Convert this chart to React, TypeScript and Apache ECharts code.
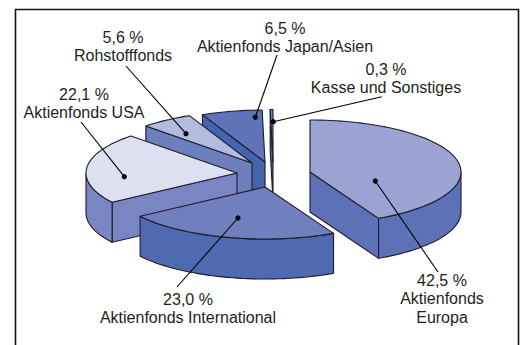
import React, { useEffect, useRef } from "react";
import * as echarts from "echarts";

// Fund allocation, in percent, clockwise from twelve o'clock.
const funds = [
  "Aktienfonds Europa",
  "Aktienfonds International",
  "Aktienfonds USA",
  "Rohstofffonds",
  "Aktienfonds Japan/Asien",
  "Kasse und Sonstiges",
];
const shares = [42.5, 23.0, 22.1, 5.6, 6.5, 0.3];

// Label lines: the last fund name wraps onto two rows.
const labelLines = [
  ["Aktienfonds", "Europa"],
  ["Aktienfonds International"],
  ["Aktienfonds USA"],
  ["Rohstofffonds"],
  ["Aktienfonds Japan/Asien"],
  ["Kasse und Sonstiges"],
];

// Where each exploded wedge's tip sits.
const wedgeTips = [
  [310, 172],
  [265, 187],
  [237, 173],
  [252, 163],
  [265, 162],
  [273, 161.5],
];
const topColors = ["#9aa3d1", "#7080bf", "#dde0f1", "#b3bbde", "#5e73b8", "#6f80be"];
const rimColors = ["#5d72b6", "#4f6ab0", "#7a86c3", "#6e7fbe", "#4365b0", "#4365b0"];

// Leader line anchor on the wedge, leader line end, centre of the label block.
const leaderDots = [
  [375.3, 181],
  [238, 218],
  [124.3, 176.7],
  [186, 133.7],
  [255.3, 117.3],
  [273.3, 121.7],
];
const leaderEnds = [
  [438, 272],
  [177, 287],
  [81, 122],
  [126, 66],
  [277, 55],
  [381.7, 96.7],
];
const labelCentres = [
  [442, 280],
  [188, 299],
  [84, 94],
  [123, 37],
  [285, 28],
  [386, 69],
];

const RX = 151;
const RY = 52;
const DEPTH = 40;
const ROW = 18.7;
const INK = "#231f20";
const EDGE = "#1c1c2c";

const rimPoint = (tip: number[], deg: number, drop = 0) => {
  const a = (deg * Math.PI) / 180;
  return [tip[0] + RX * Math.sin(a), tip[1] - RY * Math.cos(a) + drop];
};

const arcPoints = (tip: number[], from: number, to: number, drop = 0) => {
  const steps = Math.max(2, Math.ceil(Math.abs(to - from) / 2));
  const pts: number[][] = [];
  for (let i = 0; i <= steps; i++) {
    pts.push(rimPoint(tip, from + ((to - from) * i) / steps, drop));
  }
  return pts;
};

const renderWedge = (_: unknown, api: any) => {
  const index = api.value(0);
  const startDeg = (api.value(1) / 100) * 360;
  const endDeg = startDeg + (api.value(2) / 100) * 360;
  const tip = wedgeTips[index];
  const lineStyle = { stroke: EDGE, lineWidth: 1.1, lineJoin: "round" };
  const children: any[] = [];

  // Side walls first, so the top face covers their upper edges.
  const wall = (deg: number) => {
    const outer = rimPoint(tip, deg);
    const outerLow = rimPoint(tip, deg, DEPTH);
    children.push({
      type: "polygon",
      shape: { points: [tip, outer, outerLow, [tip[0], tip[1] + DEPTH]] },
      style: { fill: rimColors[index], ...lineStyle },
    });
  };
  if (Math.sin((startDeg * Math.PI) / 180) < 0) wall(startDeg);
  if (Math.sin((endDeg * Math.PI) / 180) > 1e-6) wall(endDeg);

  const from = Math.max(startDeg, 90);
  const to = Math.min(endDeg, 270);
  if (to > from) {
    children.push({
      type: "polygon",
      shape: {
        points: [...arcPoints(tip, from, to), ...arcPoints(tip, to, from, DEPTH)],
      },
      style: { fill: rimColors[index], ...lineStyle },
    });
  }

  children.push({
    type: "polygon",
    shape: { points: [tip, ...arcPoints(tip, startDeg, endDeg)] },
    style: { fill: topColors[index], ...lineStyle },
  });
  return { type: "group", children };
};

const formatShare = (v: number) => `${v.toFixed(1).replace(".", ",")} %`;

const renderLabel = (_: unknown, api: any) => {
  const index = api.value(0);
  const dot = leaderDots[index];
  const end = leaderEnds[index];
  const centre = labelCentres[index];
  const rows = [formatShare(api.value(1)), ...labelLines[index]];
  return {
    type: "group",
    children: [
      {
        type: "line",
        shape: { x1: dot[0], y1: dot[1], x2: end[0], y2: end[1] },
        style: { stroke: "#000", lineWidth: 1.1 },
      },
      {
        type: "circle",
        shape: { cx: dot[0], cy: dot[1], r: 2.6 },
        style: { fill: "#000" },
      },
      ...rows.map((text, row) => ({
        type: "text",
        style: {
          text,
          x: centre[0],
          y: centre[1] + row * ROW,
          align: "center",
          verticalAlign: "middle",
          fill: INK,
          font: '16px "Liberation Sans", Arial, sans-serif',
        },
      })),
    ],
  };
};

export default function App() {
  const ref = useRef<HTMLDivElement>(null);

  useEffect(() => {
    document.body.style.margin = "0";
    const chart = echarts.init(ref.current, undefined, { renderer: "svg" });
    let cumulative = 0;
    const wedges = shares.map((share, i) => {
      const row = [i, cumulative, share];
      cumulative += share;
      return { name: funds[i], value: row };
    });
    chart.setOption({
      animation: false,
      backgroundColor: "#fff",
      graphic: [
        {
          type: "polyline",
          silent: true,
          shape: {
            points: [
              [15.5, 345],
              [15.5, 9.5],
              [518.5, 9.5],
              [518.5, 345],
            ],
          },
          style: { fill: "none", stroke: "#111", lineWidth: 1.6 },
        },
      ],
      series: [
        {
          type: "custom",
          coordinateSystem: "none",
          renderItem: renderWedge,
          clip: false,
          silent: true,
          z: 2,
          // Painted far to near: the thin back wedges go first.
          data: [...wedges].reverse(),
        },
        {
          type: "custom",
          coordinateSystem: "none",
          renderItem: renderLabel,
          clip: false,
          silent: true,
          z: 3,
          data: shares.map((share, i) => ({ name: funds[i], value: [i, share] })),
        },
      ],
    });
    return () => chart.dispose();
  }, []);

  return <div ref={ref} style={{ width: 523, height: 345 }} />;
}
